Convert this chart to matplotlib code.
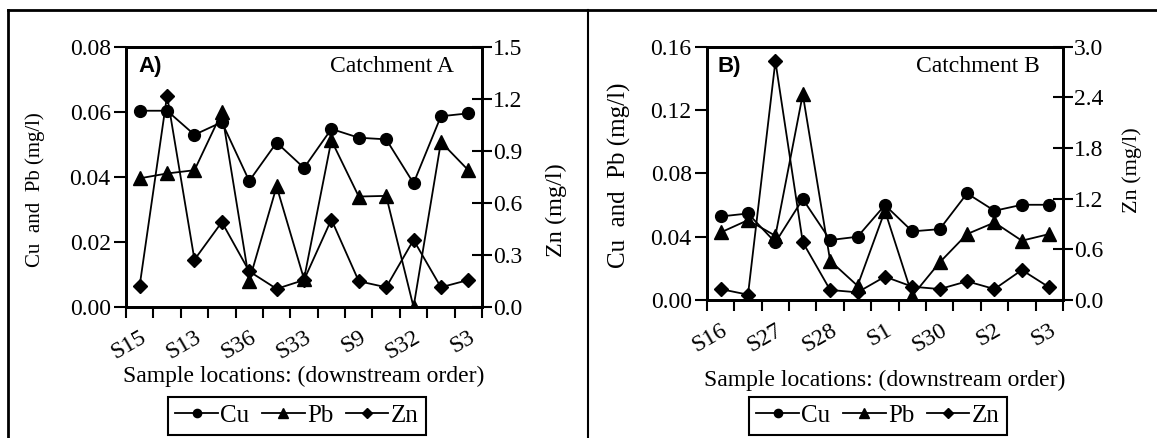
import numpy as np
import matplotlib
matplotlib.use("Agg")
import matplotlib.pyplot as plt
from matplotlib.lines import Line2D

plt.rcParams['font.family'] = ['Liberation Serif', 'DejaVu Serif']

# catchment A (13 sites, every second one labelled)
labels_a = ["S15", "", "S13", "", "S36", "", "S33", "", "S9", "", "S32", "", "S3"]
cu_a = [0.0604, 0.0604, 0.0530, 0.0569, 0.0388, 0.0506, 0.0428, 0.0548, 0.0521, 0.0516, 0.0381, 0.0587, 0.0596]
pb_a = [0.0396, 0.0411, 0.0421, 0.0599, 0.0081, 0.0371, 0.0086, 0.0513, 0.0340, 0.0342, 0.0, 0.0508, 0.0421]
zn_a = [0.124, 1.22, 0.273, 0.49, 0.206, 0.105, 0.156, 0.505, 0.149, 0.114, 0.387, 0.114, 0.156]

# catchment B
labels_b = ["S16", "", "S27", "", "S28", "", "S1", "", "S30", "", "S2", "", "S3"]
cu_b = [0.0528, 0.0547, 0.0364, 0.0638, 0.0379, 0.0400, 0.0600, 0.0434, 0.0448, 0.0674, 0.0564, 0.0602, 0.0602]
pb_b = [0.0427, 0.0505, 0.0406, 0.1300, 0.0248, 0.0090, 0.0564, 0.0027, 0.0238, 0.0417, 0.0490, 0.0375, 0.0417]
zn_b = [0.13, 0.063, 2.83, 0.685, 0.119, 0.091, 0.277, 0.158, 0.13, 0.222, 0.13, 0.356, 0.15]

FS = 17


def draw_panel(fig, rect, labels, cu, pb, zn, ymax, ystep, zmax, zstep, tag, title, lay):
    ax = fig.add_axes(rect)
    ax2 = ax.twinx()
    x = np.arange(len(labels))
    kw = dict(color='black', lw=1.3, clip_on=True)
    l1, = ax.plot(x, cu, marker='o', ms=8.5, label='Cu', **kw)
    l2, = ax.plot(x, pb, marker='^', ms=9.5, label='Pb', **kw)
    l3, = ax2.plot(x, zn, marker='D', ms=7, label='Zn', **kw)

    ax.set_xlim(-0.5, len(labels) - 0.5)
    ax.set_ylim(0, ymax)
    ax2.set_ylim(0, zmax)
    ax.set_yticks(np.arange(0, ymax + ystep / 2, ystep))
    ax.yaxis.set_major_formatter(matplotlib.ticker.FormatStrFormatter('%.2f'))
    ax2.set_yticks(np.arange(0, zmax + zstep / 2, zstep))
    ax2.yaxis.set_major_formatter(matplotlib.ticker.FormatStrFormatter('%.1f'))

    # tick marks between categories, labels on every second category
    ax.set_xticks(np.arange(-0.5, len(labels), 1.0))
    ax.set_xticklabels([])
    keep = [i for i, s in enumerate(labels) if s]
    ax.set_xticks(keep, minor=True)
    ax.set_xticklabels([labels[i] for i in keep], minor=True, rotation=30,
                       ha='right', rotation_mode='anchor', fontsize=FS)
    ax.tick_params(axis='x', which='major', direction='out', length=8, width=1.5)
    ax.tick_params(axis='x', which='minor', length=0, pad=lay['xpad'])
    ax.tick_params(axis='y', direction='out', length=9, width=1.5, labelsize=FS, pad=2)
    ax2.tick_params(axis='y', direction='inout', length=14, width=1.5, labelsize=FS, pad=1)

    for a in (ax, ax2):
        for sp in a.spines.values():
            sp.set_linewidth(2)

    ax.set_ylabel("Cu  and  Pb (mg/l)", fontsize=lay['lfs'])
    ax.yaxis.set_label_coords(*lay['lpos'])
    ax.yaxis.label.set_va('center')
    ax2.set_ylabel("Zn (mg/l)", fontsize=lay['rfs'])
    ax2.yaxis.set_label_coords(*lay['rpos'])
    ax2.yaxis.label.set_va('center')
    ax.set_xlabel("Sample locations: (downstream order)", fontsize=FS, labelpad=lay['xlpad'])

    ax.text(lay['tagx'], 0.965, tag, transform=ax.transAxes, fontsize=16, fontweight='bold',
            family='Liberation Sans', ha='left', va='top')
    ax.text(lay['titx'], 0.965, title, transform=ax.transAxes, fontsize=17, ha='right', va='top')

    leg = ax.legend(handles=[l1, l2, l3], loc='upper center',
                    bbox_to_anchor=(lay['legx'], 1 - 397 / 438), bbox_transform=fig.transFigure,
                    borderaxespad=0, ncol=3, frameon=True, fancybox=False, framealpha=1,
                    fontsize=18, handlelength=1.7, handletextpad=0.1, columnspacing=0.5,
                    borderpad=0.3, markerscale=0.7)
    leg.get_frame().set_edgecolor('black')
    leg.get_frame().set_linewidth(1.5)
    return ax


fig = plt.figure(figsize=(11.57, 4.38), dpi=100)
draw_panel(fig, [0.1089, 0.299, 0.3077, 0.5936], labels_a, cu_a, pb_a, zn_a,
           0.08, 0.02, 1.5, 0.3, "A)", "Catchment A",
           dict(xpad=14, xlpad=2, lfs=15, rfs=17.5, lpos=(-0.255, 0.45), rpos=(1.208, 0.373),
                tagx=0.035, titx=0.92, legx=297 / 1157))
draw_panel(fig, [0.611, 0.315, 0.3077, 0.578], labels_b, cu_b, pb_b, zn_b,
           0.16, 0.04, 3.0, 0.6, "B)", "Catchment B",
           dict(xpad=14, xlpad=10, lfs=18, rfs=16, lpos=(-0.245, 0.494), rpos=(1.194, 0.514),
                tagx=0.03, titx=0.935, legx=878 / 1157))

# outer frame of the figure
fig.add_artist(Line2D([0.007, 1.0], [0.977, 0.977], color='black', lw=2))
fig.add_artist(Line2D([0.007, 0.007], [0.0, 0.977], color='black', lw=2))
fig.add_artist(Line2D([0.508, 0.508], [0.0, 0.977], color='black', lw=1.5))

fig.savefig("out.png", dpi=100)
